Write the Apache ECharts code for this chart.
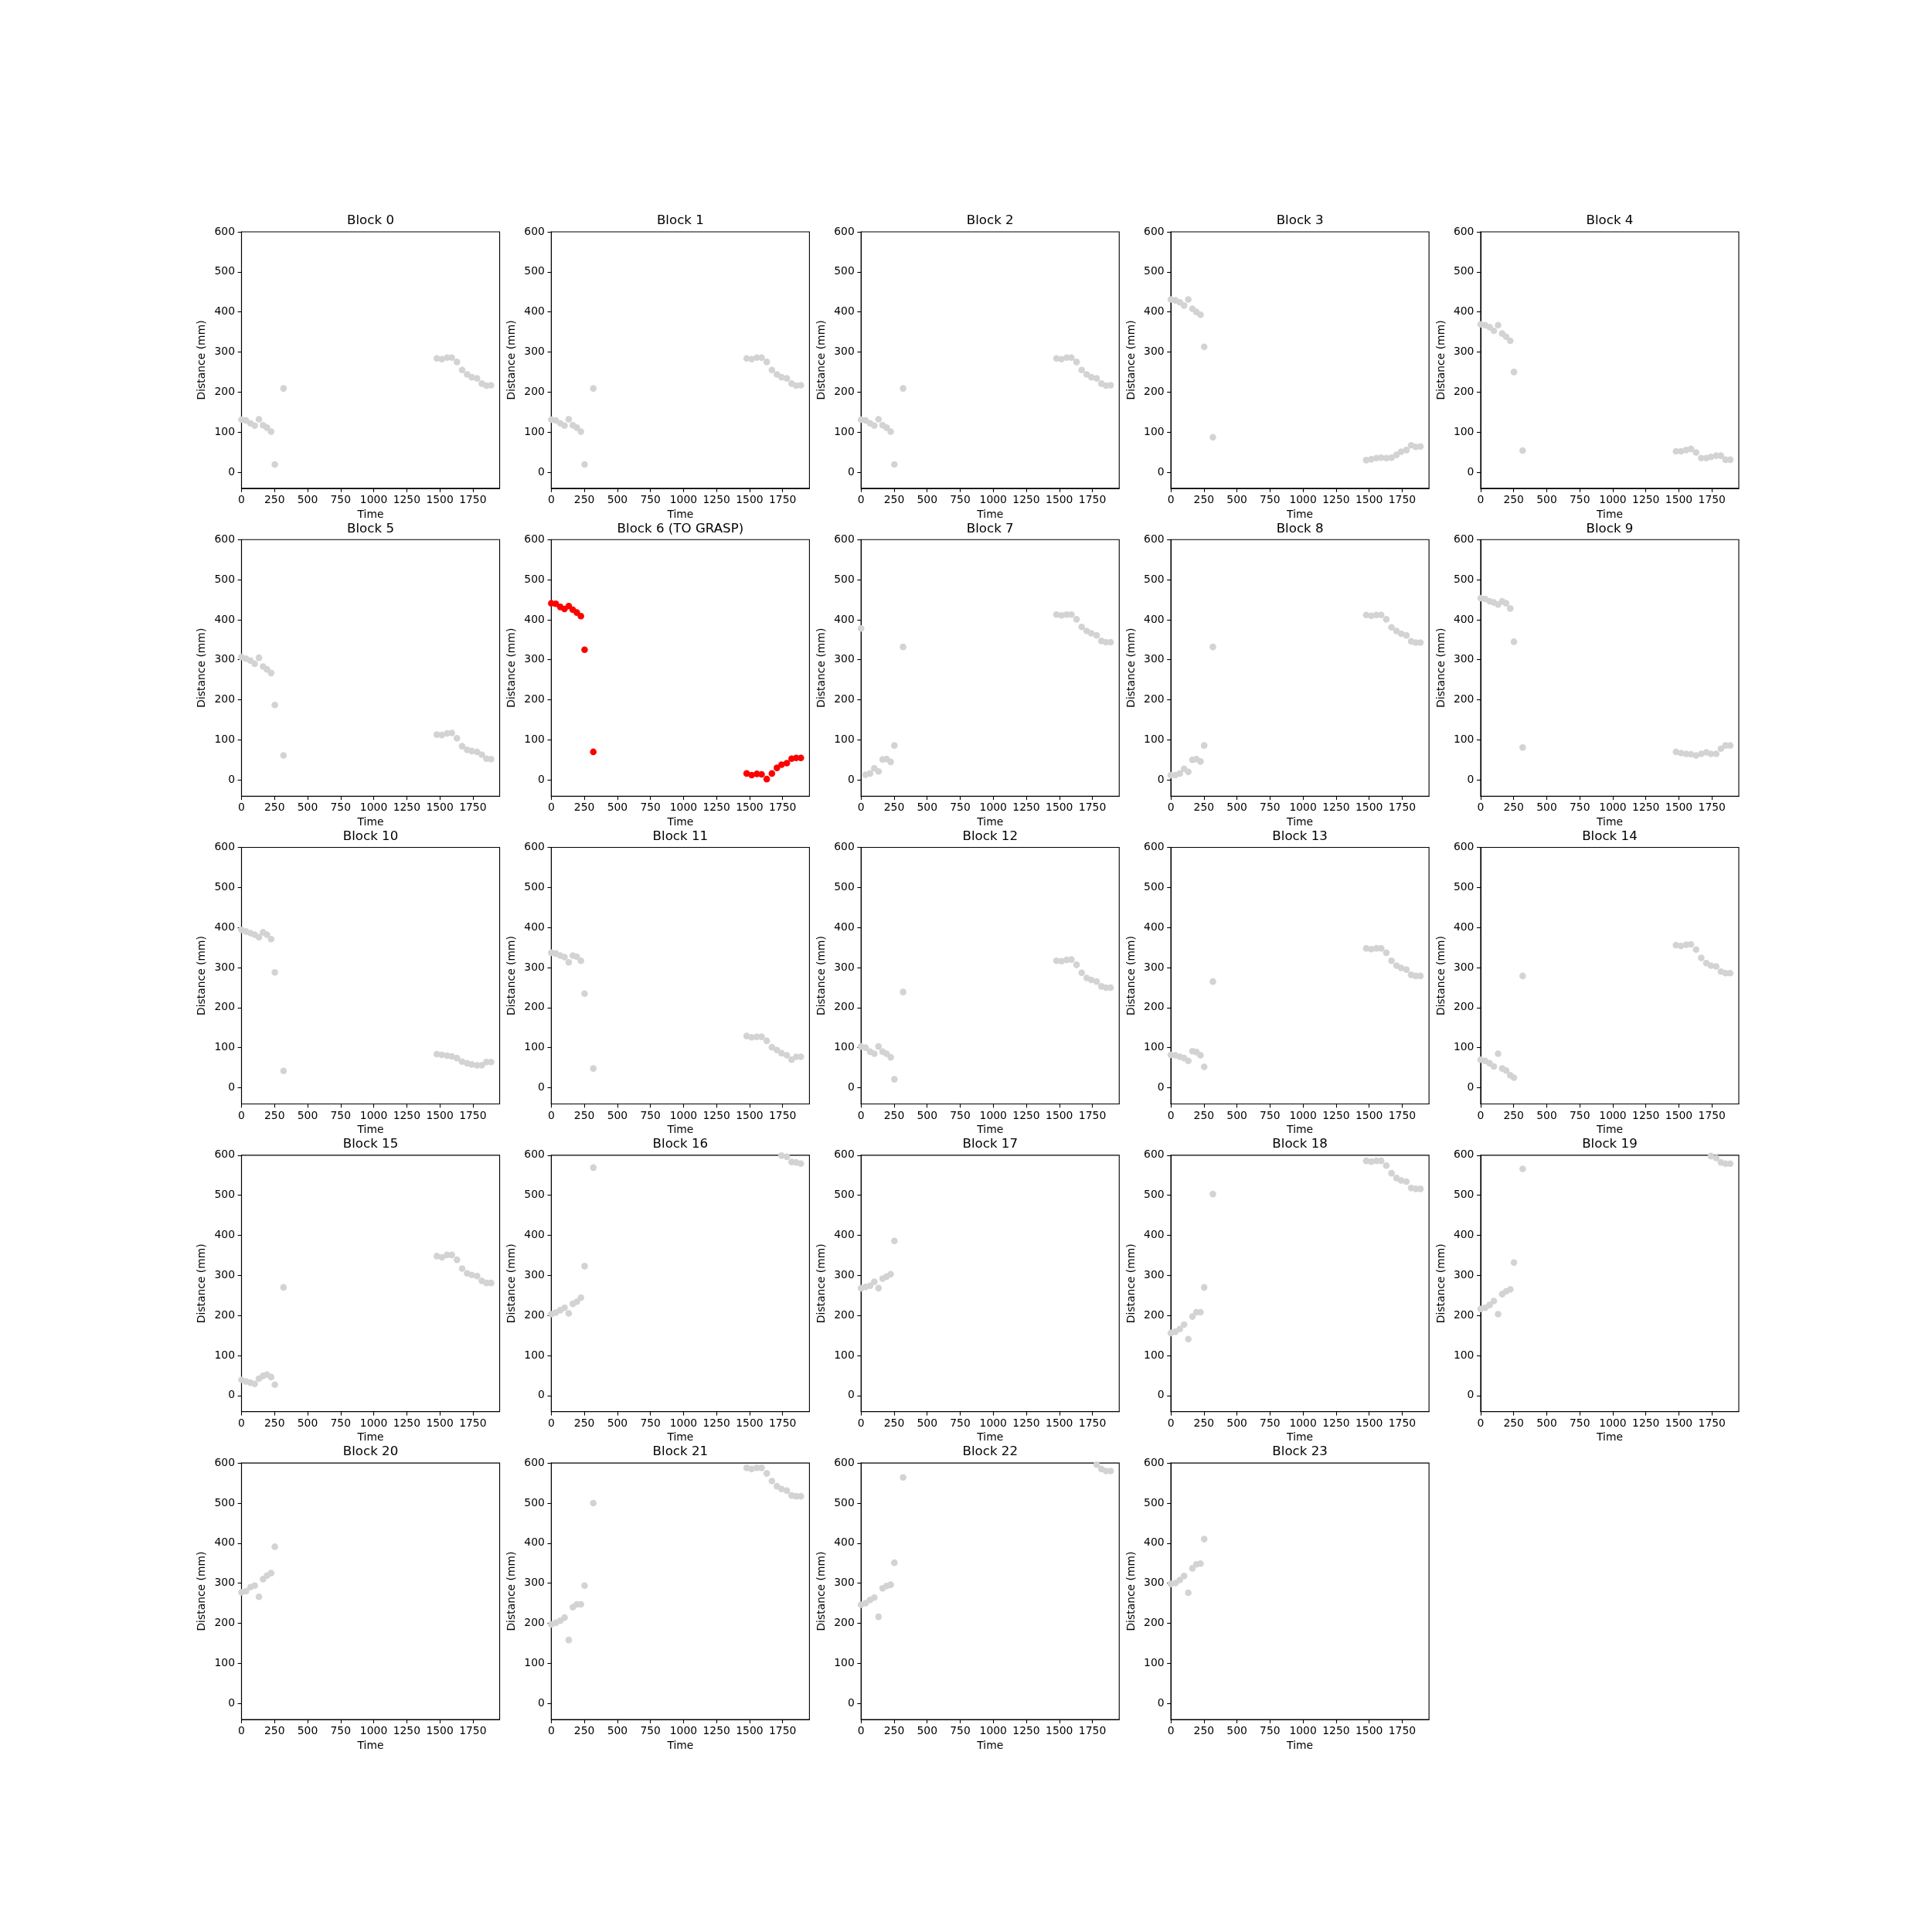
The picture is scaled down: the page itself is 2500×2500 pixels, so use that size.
<!DOCTYPE html>
<html>
<head>
<meta charset="utf-8">
<script src="https://cdn.jsdelivr.net/npm/echarts@6/dist/echarts.min.js"></script>
<style>
html,body{margin:0;padding:0;background:#fff;}
#chart{width:2500px;height:2500px;}
</style>
</head>
<body>
<div id="chart"></div>
<script>
// Sample times (same for every block)
const times = [0, 34, 68, 100, 132, 163, 193, 224, 252, 318,
               1478, 1516, 1555, 1591, 1630, 1669, 1707, 1742, 1782, 1818, 1853, 1888];

// Distance (mm) per block; null = not visible in the plotted range
const block0  = [131, 129, 122, 116, 132, 117, 111, 101, 19, 209, 284, 282, 286, 286, 275, 255, 244, 237, 234, 221, 216, 217];
const block1  = [131, 129, 122, 116, 132, 117, 111, 101, 19, 209, 284, 282, 286, 286, 275, 255, 244, 237, 234, 221, 216, 217];
const block2  = [131, 129, 122, 116, 132, 117, 111, 101, 19, 209, 284, 282, 286, 286, 275, 255, 244, 237, 234, 221, 216, 217];
const block3  = [431, 429, 424, 416, 431, 408, 400, 393, 313, 87, 30, 32, 35, 36, 35, 36, 43, 51, 55, 67, 63, 64];
const block4  = [369, 367, 362, 353, 367, 346, 338, 328, 250, 54, 52, 52, 55, 58, 49, 35, 35, 38, 41, 41, 31, 31];
const block5  = [307, 303, 298, 290, 305, 283, 276, 267, 187, 61, 113, 112, 116, 117, 104, 84, 75, 72, 70, 63, 53, 52];
const block6  = [441, 440, 432, 427, 434, 425, 418, 409, 325, 70, 16, 12, 15, 14, 2, 16, 30, 38, 42, 53, 55, 55];
const block7  = [378, 13, 16, 29, 21, 51, 52, 45, 86, 332, 413, 411, 413, 413, 401, 382, 372, 366, 361, 347, 344, 344];
const block8  = [12, 12, 16, 28, 20, 50, 52, 46, 86, 332, 412, 410, 412, 412, 401, 381, 372, 365, 361, 346, 343, 343];
const block9  = [454, 452, 446, 443, 438, 446, 441, 428, 345, 81, 70, 67, 65, 64, 61, 65, 69, 65, 65, 78, 86, 86];
const block10 = [394, 390, 386, 382, 376, 388, 382, 371, 288, 42, 84, 82, 80, 78, 74, 65, 61, 58, 56, 56, 64, 64];
const block11 = [337, 335, 330, 326, 313, 330, 327, 317, 235, 48, 129, 126, 127, 127, 117, 101, 94, 86, 81, 70, 77, 77];
const block12 = [103, 100, 90, 85, 103, 90, 85, 76, 21, 239, 317, 316, 319, 320, 307, 287, 274, 269, 265, 253, 250, 250];
const block13 = [82, 81, 77, 74, 67, 91, 89, 81, 52, 265, 348, 346, 348, 348, 337, 317, 305, 299, 295, 282, 279, 279];
const block14 = [70, 67, 61, 53, 85, 48, 43, 31, 25, 279, 356, 354, 357, 358, 345, 324, 311, 305, 303, 290, 286, 286];
const block15 = [39, 35, 32, 29, 42, 49, 52, 46, 27, 270, 348, 345, 351, 351, 339, 317, 305, 301, 298, 286, 281, 281];
const block16 = [203, 207, 213, 219, 205, 229, 234, 244, 323, 569, null, null, null, null, null, null, null, 599, 596, 583, 582, 579];
const block17 = [268, 271, 274, 284, 268, 292, 297, 303, 386, null, null, null, null, null, null, null, null, null, null, null, null, null];
const block18 = [156, 159, 166, 177, 141, 197, 208, 208, 270, 503, 586, 584, 586, 586, 574, 555, 543, 537, 534, 518, 516, 516];
const block19 = [216, 219, 226, 236, 203, 253, 260, 265, 332, 566, null, null, null, null, null, null, null, 598, 593, 582, 579, 579];
const block20 = [277, 280, 290, 294, 266, 310, 319, 325, 391, null, null, null, null, null, null, null, null, null, null, null, null, null];
const block21 = [197, 201, 206, 214, 158, 240, 247, 247, 294, 500, 588, 585, 588, 588, 574, 555, 542, 535, 531, 519, 517, 517];
const block22 = [246, 250, 258, 264, 216, 287, 293, 296, 351, 564, null, null, null, null, null, null, null, null, 596, 585, 580, 580];
const block23 = [298, 300, 308, 318, 276, 337, 347, 349, 410, null, null, null, null, null, null, null, null, null, null, null, null, null];

const blocks = [block0, block1, block2, block3, block4, block5, block6, block7, block8, block9,
                block10, block11, block12, block13, block14, block15, block16, block17, block18, block19,
                block20, block21, block22, block23];
const graspIndex = 6;
const titles = blocks.map((_, i) => i === graspIndex ? 'Block ' + i + ' (TO GRASP)' : 'Block ' + i);

const xTicks = [0, 250, 500, 750, 1000, 1250, 1500, 1750];
const yTicks = [0, 100, 200, 300, 400, 500, 600];
const xRange = [0, 1953];
const yRange = [-40.5, 600];

// ---- layout (matplotlib-like 5x5 subplot grid) ----
const FONT = 'DejaVu Sans';
const cellW = 334.05, cellH = 331.9, stepX = 400.86, stepY = 398.28, left0 = 312.5, top0 = 300;
const tickFS = 13.9, titleFS = 16.67;

const grids = [], xAxes = [], yAxes = [], series = [], graphics = [];
blocks.forEach((vals, i) => {
  const r = Math.floor(i / 5), c = i % 5;
  const gl = left0 + c * stepX, gt = top0 + r * stepY;
  grids.push({left: gl, top: gt, width: cellW, height: cellH, show: true,
              borderColor: '#000', borderWidth: 1.1, backgroundColor: 'rgba(0,0,0,0)', containLabel: false});
  const common = {
    gridIndex: i, type: 'value', nameLocation: 'middle',
    nameTextStyle: {fontFamily: FONT, fontSize: tickFS, color: '#000'},
    axisLine: {show: true, onZero: false, lineStyle: {color: '#000', width: 1.1}},
    axisTick: {show: true, inside: false, length: 4.9, lineStyle: {color: '#000', width: 1.1}},
    axisLabel: {fontFamily: FONT, fontSize: tickFS, color: '#000', margin: 8.5,
                showMinLabel: true, showMaxLabel: true, formatter: v => String(v)},
    splitLine: {show: false}
  };
  xAxes.push(Object.assign({}, common, {
    min: xRange[0], max: xRange[1], name: 'Time', nameGap: 27,
    axisTick: Object.assign({}, common.axisTick, {customValues: xTicks}),
    axisLabel: Object.assign({}, common.axisLabel, {customValues: xTicks})
  }));
  yAxes.push(Object.assign({}, common, {
    min: yRange[0], max: yRange[1], name: 'Distance (mm)', nameGap: 44, nameRotate: 90,
    axisTick: Object.assign({}, common.axisTick, {customValues: yTicks}),
    axisLabel: Object.assign({}, common.axisLabel, {customValues: yTicks})
  }));
  const data = [];
  vals.forEach((v, j) => { if (v !== null) data.push([times[j], v]); });
  series.push({
    type: 'scatter', xAxisIndex: i, yAxisIndex: i, data: data,
    symbol: 'circle', symbolSize: 8.6, clip: true,
    itemStyle: {color: i === graspIndex ? '#ff0000' : '#d3d3d3', opacity: 1},
    emphasis: {disabled: true}, silent: true
  });
  graphics.push({
    type: 'text', x: gl + cellW / 2, y: gt - 14,
    style: {text: titles[i], fontFamily: FONT, fontSize: titleFS, fill: '#000',
            textAlign: 'center', textVerticalAlign: 'middle'}
  });
});

const chart = echarts.init(document.getElementById('chart'), null, {renderer: 'canvas'});
chart.setOption({
  backgroundColor: '#ffffff',
  animation: false,
  grid: grids, xAxis: xAxes, yAxis: yAxes, series: series,
  graphic: graphics
});
</script>
</body>
</html>
